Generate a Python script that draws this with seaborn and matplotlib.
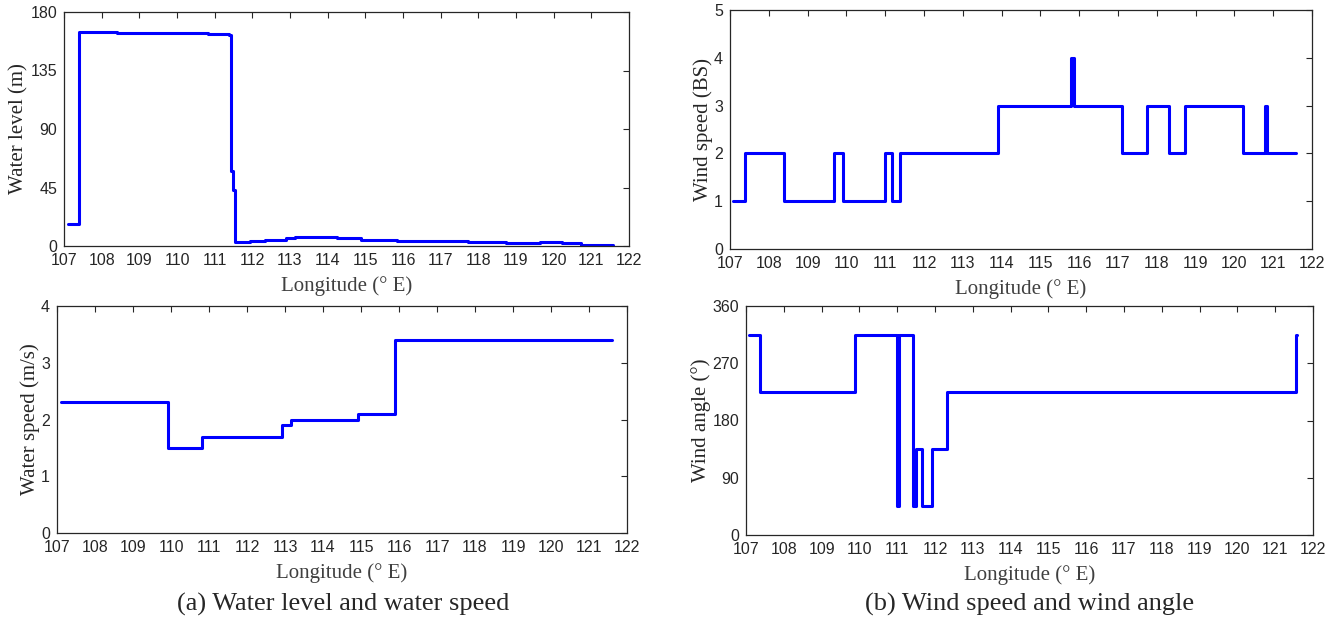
import numpy as np
import matplotlib
matplotlib.use("Agg")
import matplotlib.pyplot as plt
import seaborn as sns

# step data: value holds from each x until the next x
wl_lon = [107.10, 107.40, 108.42, 110.82, 111.37, 111.43, 111.48, 111.54,
          111.94, 112.33, 112.90, 113.13, 114.26, 114.89, 115.85, 117.72,
          118.74, 119.65, 120.22, 120.73, 121.58]
wl_val = [17, 165, 164, 163, 162, 58, 43, 3,
          4, 5, 6, 7, 6, 5, 4, 3,
          2, 3, 2, 1, 1]

ws_lon = [107.07, 107.38, 108.39, 109.68, 109.90, 111.00, 111.18, 111.37,
          113.90, 115.78, 115.87, 117.11, 117.75, 118.32, 118.73, 120.23,
          120.80, 120.83, 121.59]
ws_val = [1, 2, 1, 2, 1, 2, 1, 2,
          3, 4, 3, 2, 3, 2, 3, 2,
          3, 2, 2]

vs_lon = [107.10, 109.92, 110.82, 112.91, 113.15, 114.93, 115.90, 121.61]
vs_val = [2.3, 1.5, 1.7, 1.9, 2.0, 2.1, 3.4, 3.4]

wa_lon = [107.07, 107.37, 109.89, 111.00, 111.05, 111.42, 111.51, 111.66,
          111.91, 112.33, 121.55, 121.57]
wa_val = [315, 225, 315, 45, 315, 45, 135, 45,
          135, 225, 315, 315]

x_ticks = list(range(107, 123))

panels = [
    # (x, y, ylabel, yticks, ylim, axes box in pixels: left, right, top, bottom)
    (wl_lon, wl_val, "Water level (m)", [0, 45, 90, 135, 180], (0, 180), (64, 629, 12, 246)),
    (ws_lon, ws_val, "Wind speed (BS)", [0, 1, 2, 3, 4, 5], (0, 5), (730, 1312, 10, 249)),
    (vs_lon, vs_val, "Water speed (m/s)", [0, 1, 2, 3, 4], (0, 4), (57, 627, 306, 533)),
    (wa_lon, wa_val, "Wind angle (\u00b0)", [0, 90, 180, 270, 360], (0, 360), (746, 1313, 306, 535)),
]

sns.set_theme(style="white")
plt.rcParams["font.family"] = ["Liberation Serif", "DejaVu Serif"]

W, H = 1340, 618
fig = plt.figure(figsize=(W / 100, H / 100), dpi=100)

for x, y, ylab, yt, ylim, (l, r, t, b) in panels:
    ax = fig.add_axes([l / W, 1 - b / H, (r - l) / W, (b - t) / H])
    sns.lineplot(x=x, y=y, ax=ax, drawstyle="steps-post", estimator=None,
                 color="#0000ff", linewidth=2.2)
    ax.set_xlim(107, 122)
    ax.set_ylim(*ylim)
    ax.set_xticks(x_ticks)
    ax.set_yticks(yt)
    ax.tick_params(direction="in", length=4, width=0.8, top=True, right=True,
                   labelsize=11.5, pad=5, colors="#262626")
    for lab in ax.get_xticklabels() + ax.get_yticklabels():
        lab.set_family(["Liberation Sans", "DejaVu Sans"])
    for s in ax.spines.values():
        s.set_color("#262626")
        s.set_linewidth(0.9)
    ax.set_xlabel("Longitude (\u00b0 E)", fontsize=15, color="#404040", labelpad=6)
    ax.set_ylabel(ylab, fontsize=15, color="#262626", labelpad=1)

fig.text((57 + 629) / 2 / W, 1 - 604 / H, "(a) Water level and water speed",
         ha="center", va="center", fontsize=19)
fig.text((746 + 1313) / 2 / W, 1 - 604 / H, "(b) Wind speed and wind angle",
         ha="center", va="center", fontsize=19)

fig.savefig("out.png", dpi=100)
